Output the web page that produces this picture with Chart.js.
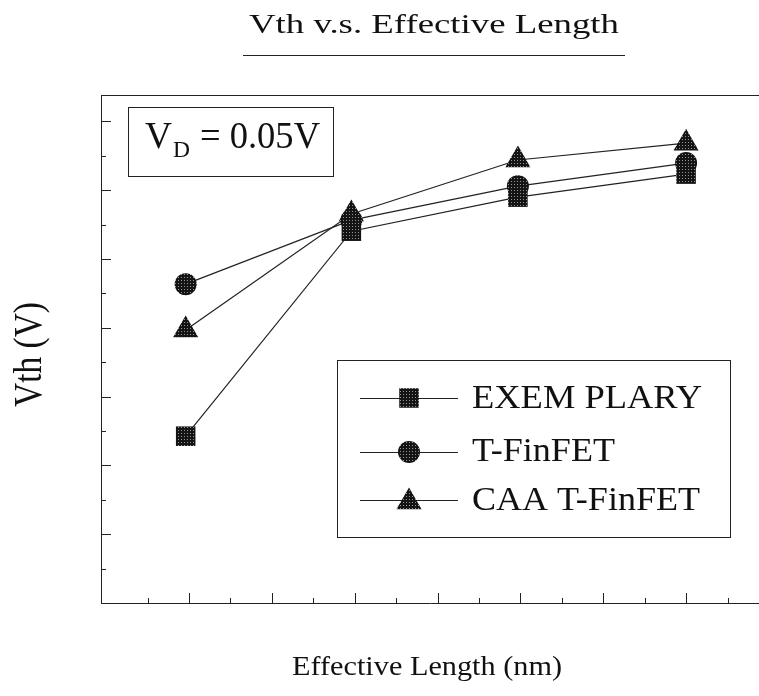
<!DOCTYPE html>
<html><head><meta charset="utf-8">
<script src="https://cdn.jsdelivr.net/npm/chart.js@4/dist/chart.umd.min.js"></script>
<style>html,body{margin:0;padding:0;background:#fff;overflow:hidden}#wrap{width:759px;height:696px;position:relative}canvas{display:block}</style>
</head><body><div id="wrap"><canvas id="c"></canvas></div>
<script>
// ---- data (axes are unlabeled) ----
const chartTitle = 'Vth v.s. Effective Length';
const xAxisTitle = 'Effective Length (nm)';
const yAxisTitle = 'Vth (V)';
const annotationMain = 'V';
const annotationSub = 'D';
const annotationRest = '= 0.05V';
const seriesNames = ['EXEM PLARY', 'T-FinFET', 'CAA T-FinFET'];
const effectiveLength = [0.96, 2.96, 4.97, 7.0];
const vthExemplary = [4.85, 10.81, 11.80, 12.47];
const vthTFinFET = [9.27, 11.13, 12.12, 12.79];
const vthCAATFinFET = [7.94, 11.31, 12.88, 13.37];
const xTickValues = [0.5,1,1.5,2,2.5,3,3.5,4,4.5,5,5.5,6,6.5,7,7.5];
const yTickValues = [1,2,3,4,5,6,7,8,9,10,11,12,13,14];

// ---- halftone marker fill ----
const pc = document.createElement('canvas'); pc.width = 3; pc.height = 3;
const pctx = pc.getContext('2d');
pctx.fillStyle = '#141414'; pctx.fillRect(0,0,3,3);
pctx.fillStyle = 'rgba(255,255,255,0.55)'; pctx.fillRect(1,1,1,1);
const markerFill = pctx.createPattern(pc, 'repeat');

const styles = [
  {pointStyle:'rect', radius:13.8},
  {pointStyle:'circle', radius:11},
  {pointStyle:'triangle', radius:14.5}
];
const seriesValues = [vthExemplary, vthTFinFET, vthCAATFinFET];

const datasets = seriesNames.map((name, i) => ({
  label: name,
  data: effectiveLength.map((x, j) => ({x: x, y: seriesValues[i][j]})),
  borderColor: '#222',
  borderWidth: 1.2,
  pointStyle: styles[i].pointStyle,
  pointRadius: styles[i].radius,
  pointHoverRadius: styles[i].radius,
  pointBackgroundColor: markerFill,
  pointBorderColor: markerFill,
  pointBorderWidth: 0,
  tension: 0,
  fill: false
}));

const FONT = '"Liberation Serif", "Times New Roman", serif';
function fitText(ctx, text, left, baseline, px, width, rot) {
  ctx.save();
  ctx.font = px + 'px ' + FONT;
  ctx.fillStyle = '#111';
  ctx.textBaseline = 'alphabetic';
  ctx.textAlign = 'left';
  const w = ctx.measureText(text).width;
  ctx.translate(left, baseline);
  if (rot) ctx.rotate(rot);
  ctx.scale(width / w, 1);
  ctx.fillText(text, 0, 0);
  ctx.restore();
}

const decor = {
  id: 'decor',
  afterDraw(chart) {
    const ctx = chart.ctx;
    const xs = chart.scales.x, ys = chart.scales.y;
    const a = chart.chartArea;
    ctx.save();
    ctx.strokeStyle = '#222';
    ctx.lineWidth = 1;
    // top frame line
    ctx.beginPath(); ctx.moveTo(a.left, a.top + 0.5); ctx.lineTo(a.right, a.top + 0.5); ctx.stroke();
    // x ticks (inward)
    xTickValues.forEach(v => {
      const px = Math.round(xs.getPixelForValue(v)) + 0.5;
      const len = Number.isInteger(v) ? 10 : 5;
      ctx.beginPath(); ctx.moveTo(px, a.bottom); ctx.lineTo(px, a.bottom - len); ctx.stroke();
    });
    // y ticks (inward)
    yTickValues.forEach(v => {
      const py = Math.round(ys.getPixelForValue(v)) + 0.5;
      const len = (v % 2 === 0) ? 10 : 5;
      ctx.beginPath(); ctx.moveTo(a.left, py); ctx.lineTo(a.left + len, py); ctx.stroke();
    });
    // title + underline
    fitText(ctx, chartTitle, 249, 33, 27, 370);
    ctx.beginPath(); ctx.moveTo(243, 55.5); ctx.lineTo(625, 55.5); ctx.stroke();
    // axis titles
    fitText(ctx, xAxisTitle, 292, 675, 27, 270);
    fitText(ctx, yAxisTitle, 41, 407, 39, 105, -Math.PI / 2);
    // annotation box
    ctx.strokeRect(128.5, 107.5, 205, 69);
    fitText(ctx, annotationMain, 145, 148, 38, 27);
    fitText(ctx, annotationSub, 173, 157, 23, 17);
    fitText(ctx, annotationRest, 200, 148, 38, 120);
    // legend
    ctx.strokeRect(337.5, 360.5, 393, 177);
    const rowY = [398, 452, 500];
    const textBase = [408, 461, 510];
    const textW = [230, 143, 228];
    chart.data.datasets.forEach((ds, i) => {
      ctx.strokeStyle = '#222'; ctx.lineWidth = 1.2;
      ctx.beginPath(); ctx.moveTo(360, rowY[i] + 0.5); ctx.lineTo(458, rowY[i] + 0.5); ctx.stroke();
      ctx.fillStyle = markerFill;
      Chart.helpers.drawPoint(ctx, {pointStyle: ds.pointStyle, radius: ds.pointRadius, rotation: 0, borderWidth: 0}, 409, rowY[i] + (ds.pointStyle === 'triangle' ? 2 : 0));
      fitText(ctx, ds.label, 472, textBase[i], 33, textW[i]);
    });
    ctx.restore();
  }
};

new Chart(document.getElementById('c'), {
  type: 'line',
  data: { datasets: datasets },
  options: {
    responsive: true,
    maintainAspectRatio: false,
    animation: false,
    events: [],
    layout: { autoPadding: false, padding: { left: 101, top: 95, right: 0, bottom: 93 } },
    plugins: { legend: { display: false }, title: { display: false }, tooltip: { enabled: false } },
    scales: {
      x: {
        type: 'linear', min: -0.062, max: 7.88,
        ticks: { display: false },
        grid: { display: false, drawTicks: false },
        border: { display: true, color: '#222', width: 1 }
      },
      y: {
        type: 'linear', min: 0, max: 14.77,
        ticks: { display: false },
        grid: { display: false, drawTicks: false },
        border: { display: true, color: '#222', width: 1 }
      }
    }
  },
  plugins: [decor]
});
</script>
</body></html>
